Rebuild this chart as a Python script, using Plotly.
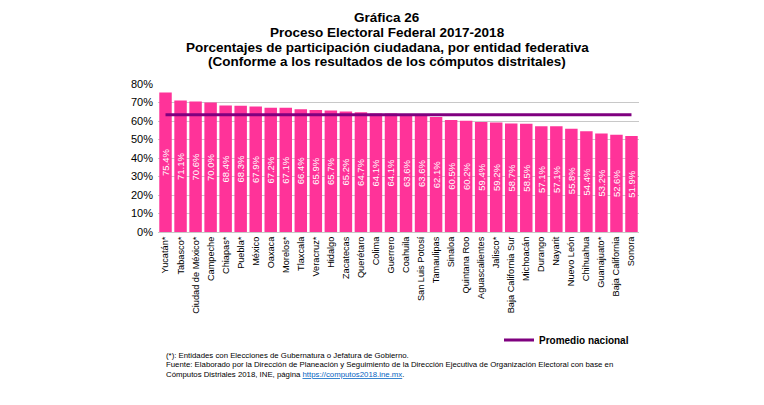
import plotly.graph_objects as go

entidades = [
    "Yucatán*", "Tabasco*", "Ciudad de México*", "Campeche", "Chiapas*", "Puebla*",
    "México", "Oaxaca", "Morelos*", "Tlaxcala", "Veracruz*", "Hidalgo", "Zacatecas",
    "Querétaro", "Colima", "Guerrero", "Coahuila", "San Luis Potosí", "Tamaulipas",
    "Sinaloa", "Quintana Roo", "Aguascalientes", "Jalisco*", "Baja California Sur",
    "Michoacán", "Durango", "Nayarit", "Nuevo León", "Chihuahua", "Guanajuato*",
    "Baja California", "Sonora",
]
participacion = [
    75.4, 71.1, 70.6, 70.0, 68.4, 68.3, 67.9, 67.2, 67.1, 66.4, 65.9, 65.7, 65.2,
    64.7, 64.1, 64.1, 63.6, 63.6, 62.1, 60.5, 60.2, 59.4, 59.2, 58.7, 58.5, 57.1,
    57.1, 55.8, 54.4, 53.2, 52.6, 51.9,
]
promedio_nacional = 63.4
y_ticks = [0, 10, 20, 30, 40, 50, 60, 70, 80]
y_tick_labels = [f"{v}%" for v in y_ticks]

FONT = "Liberation Sans, Arial, sans-serif"

# area de trazado (px en la imagen final; la pagina agrega 8px de margen)
PX_L, PX_T, PW, PH = 158, 84, 481, 148
OFF = 8


def px_x(x):
    return (x - PX_L) / PW


def px_y(y):
    return 1 + (PX_T - y) / PH


fig = go.Figure()

# barras por entidad
fig.add_trace(go.Bar(
    x=entidades, y=participacion,
    marker=dict(color="#FF3399", line=dict(width=0)),
    text=[f"{v:.1f}%" for v in participacion],
    textposition="inside", insidetextanchor="middle", textangle=-90,
    constraintext="none",
    insidetextfont=dict(color="white", size=9.5, family=FONT),
    showlegend=False,
))

# linea del promedio nacional
fig.add_trace(go.Scatter(
    x=entidades, y=[promedio_nacional] * len(entidades),
    mode="lines", name="<b>Promedio nacional</b>",
    line=dict(color="#7F007F", width=3),
))

titulos = [
    "Gráfica 26",
    "Proceso Electoral Federal 2017-2018",
    "Porcentajes de participación ciudadana, por entidad federativa",
    "(Conforme a los resultados de los cómputos distritales)",
]
titulo_y = [17, 32, 47, 62]

notas = [
    "(*): Entidades con Elecciones de Gubernatura o Jefatura de Gobierno.",
    "Fuente: Elaborado por la Dirección de Planeación y Seguimiento de la Dirección "
    "Ejecutiva de Organización Electoral con base en",
    "Cómputos Distriales 2018, INE, página "
    "<a href='https://computos2018.ine.mx' style='color:#0563C1'><u>https://computos2018.ine.mx</u></a>.",
]
notas_y = [355, 364.5, 374]

anns = []
for txt, yy in zip(titulos, titulo_y):
    anns.append(dict(
        text=f"<b>{txt}</b>", xref="paper", yref="paper",
        x=px_x(387), y=px_y(yy),
        xanchor="center", yanchor="middle", showarrow=False,
        font=dict(size=13.5, family=FONT, color="#000000"),
    ))
for txt, yy in zip(notas, notas_y):
    anns.append(dict(
        text=txt, xref="paper", yref="paper", x=px_x(164), y=px_y(yy),
        xanchor="left", yanchor="middle", align="left", showarrow=False,
        font=dict(size=7.8, family=FONT, color="#000000"),
    ))

fig.update_layout(
    width=764, height=405,
    margin=dict(l=PX_L - OFF, r=764 - (PX_L - OFF) - PW,
                t=PX_T - OFF, b=405 - (PX_T - OFF) - PH),
    paper_bgcolor="white", plot_bgcolor="white",
    font=dict(family=FONT, color="#000000"),
    bargap=0.17,
    legend=dict(x=px_x(499), xanchor="left", y=px_y(340), yanchor="middle",
                font=dict(size=10, family=FONT, color="#000000"),
                bgcolor="rgba(0,0,0,0)", itemwidth=30),
    annotations=anns,
)

fig.update_xaxes(
    tickangle=-90, tickfont=dict(size=9.2, family=FONT, color="#000000"),
    showline=True, linecolor="#C8C8C8", linewidth=1, ticks="",
    automargin=False,
)
fig.update_yaxes(
    range=[0, 80], tickmode="array", tickvals=y_ticks, ticktext=y_tick_labels,
    tickfont=dict(size=11, family=FONT, color="#000000"),
    ticklabelstandoff=4,
    showgrid=True, gridcolor="#C8C8C8", gridwidth=1, zeroline=False,
    automargin=False, layer="below traces",
)

fig.write_html("out.html")
